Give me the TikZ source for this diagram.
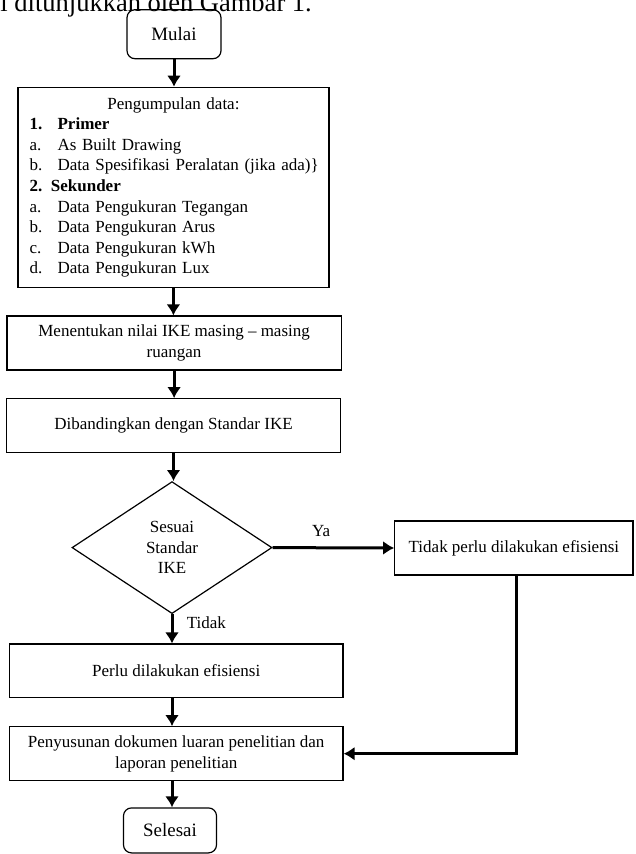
\documentclass[tikz,border=0pt]{standalone}
\usepackage{fontspec}
\setmainfont{Liberation Serif}
\usetikzlibrary{shapes.geometric,arrows.meta}
\newcommand{\itm}[2]{\hspace*{11.8pt}\makebox[27.9pt][l]{#1}#2}
\begin{document}
\begin{tikzpicture}[x=1pt,y=-1pt,line join=miter,
  every node/.style={font=\fontsize{17}{20.6}\selectfont},
  box/.style={draw,line width=1.2pt,rectangle,align=center,inner sep=0pt},
  term/.style={box,rounded corners=8pt,font=\fontsize{18.9}{22}\selectfont},
  flow/.style={line width=3pt,-{Latex[length=11pt,width=14pt]}}]
  \fill[white] (0,0) rectangle (635,854);
  \useasboundingbox (0,0) rectangle (635,854);
  % text of the page above the chart, cut at the top
  \node[font=\fontsize{26.5}{30}\selectfont,anchor=base east,inner sep=0pt] (intro) at (312,11) {i ditunjukkan oleh Gambar 1.};
  % main column
  \node[term,minimum width=94pt,minimum height=49pt] (mulai) at (174,34.2) {Mulai};
  \node[box,minimum width=311pt,minimum height=200.4pt,text width=311pt,align=left] (data) at (173.4,187.5)
    {\makebox[\linewidth]{Pengumpulan data:}\\
     \itm{\textbf{1.}}{\textbf{Primer}}\\
     \itm{a.}{As Built Drawing}\\
     \itm{b.}{Data Spesifikasi Peralatan (jika ada)\}}\\
     \hspace*{11.8pt}\textbf{2. Sekunder}\\
     \itm{a.}{Data Pengukuran Tegangan}\\
     \itm{b.}{Data Pengukuran Arus}\\
     \itm{c.}{Data Pengukuran kWh}\\
     \itm{d.}{Data Pengukuran Lux}};
  \node[box,minimum width=334.4pt,minimum height=54pt] (ike) at (174.1,343) {Menentukan nilai IKE masing – masing\\ruangan};
  \node[box,minimum width=334pt,minimum height=54pt] (banding) at (173.5,425.7) {Dibandingkan dengan Standar IKE};
  \node[diamond,draw,line width=1.2pt,aspect=1.515,minimum width=200pt,minimum height=132pt,inner sep=0pt,align=center] (cek) at (172,547.6) {Sesuai\\Standar\\IKE};
  \node[box,minimum width=238.3pt,minimum height=54pt] (tidakperlu) at (513.9,548) {Tidak perlu dilakukan efisiensi};
  \node[box,minimum width=333.7pt,minimum height=53.7pt] (perlu) at (176.2,670.9) {Perlu dilakukan efisiensi};
  \node[box,minimum width=333.7pt,minimum height=54pt] (laporan) at (176.2,753.7) {Penyusunan dokumen luaran penelitian dan\\laporan penelitian};
  \node[term,minimum width=93pt,minimum height=45pt] (selesai) at (170,830.4) {Selesai};
  % connectors
  \draw[flow] (mulai.south) -- (mulai.south |- data.north);
  \draw[flow] (data.south) -- (data.south |- ike.north);
  \draw[flow] (ike.south) -- (ike.south |- banding.north);
  \draw[flow] (banding.south) -- (banding.south |- cek.north);
  \draw[flow] (cek.east) -- node[above=6pt,pos=0.4] {Ya} (tidakperlu.west);
  \draw[flow] (cek.south) -- node[right=10pt,pos=0.3] {Tidak} (cek.south |- perlu.north);
  \draw[flow] (cek.south |- perlu.south) -- (cek.south |- laporan.north);
  \draw[flow] (cek.south |- laporan.south) -- (cek.south |- selesai.north);
  \draw[flow] ([xshift=3pt]tidakperlu.south) |- (laporan.east);
\end{tikzpicture}
\end{document}
